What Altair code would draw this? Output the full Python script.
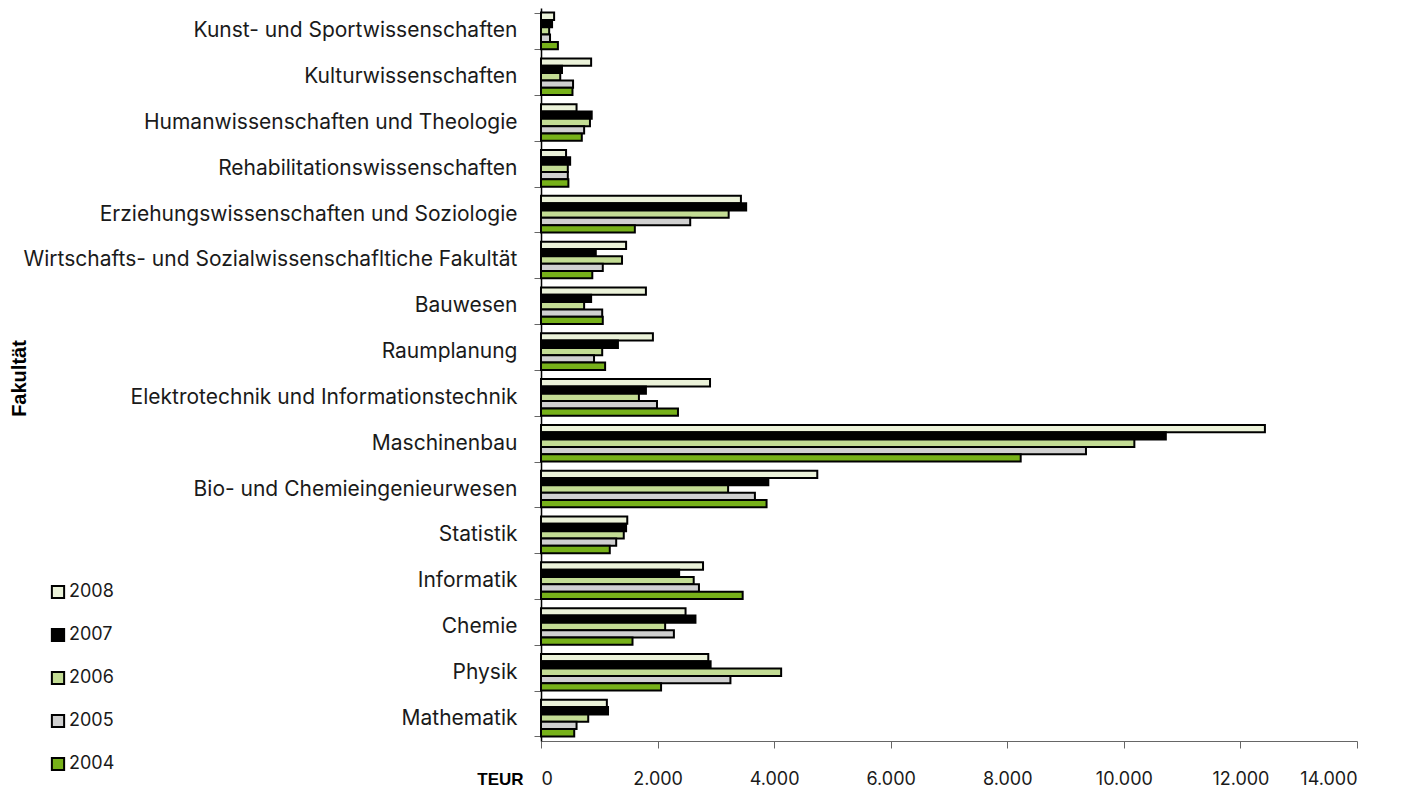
import altair as alt
import pandas as pd

fakultaeten = [
    "Kunst- und Sportwissenschaften",
    "Kulturwissenschaften",
    "Humanwissenschaften und Theologie",
    "Rehabilitationswissenschaften",
    "Erziehungswissenschaften und Soziologie",
    "Wirtschafts- und Sozialwissenschafltiche Fakultät",
    "Bauwesen",
    "Raumplanung",
    "Elektrotechnik und Informationstechnik",
    "Maschinenbau",
    "Bio- und Chemieingenieurwesen",
    "Statistik",
    "Informatik",
    "Chemie",
    "Physik",
    "Mathematik",
]
jahre = ["2008", "2007", "2006", "2005", "2004"]
farben = ["#EBF2D9", "#000000", "#C3DC94", "#D0D0D0", "#77B11A"]

v2008 = [225, 860, 610, 430, 3430, 1460, 1800, 1920, 2900, 12420, 4740, 1480, 2780, 2480, 2870, 1130]
v2007 = [190, 360, 870, 500, 3520, 940, 860, 1320, 1800, 10720, 3900, 1460, 2370, 2650, 2910, 1150]
v2006 = [140, 330, 840, 460, 3220, 1390, 740, 1050, 1680, 10180, 3210, 1420, 2620, 2130, 4120, 810]
v2005 = [155, 550, 740, 460, 2560, 1060, 1050, 910, 1990, 9350, 3670, 1290, 2710, 2280, 3250, 610]
v2004 = [290, 540, 700, 470, 1610, 880, 1060, 1100, 2350, 8230, 3870, 1180, 3460, 1570, 2060, 570]

serien = {"2008": v2008, "2007": v2007, "2006": v2006, "2005": v2005, "2004": v2004}
rows = []
for j in jahre:
    for f, v in zip(fakultaeten, serien[j]):
        rows.append({"Fakultät": f, "Jahr": j, "TEUR": v})
df = pd.DataFrame(rows)

LABEL_FONT = "Inter"
BOLD_FONT = "Liberation Sans"

chart = alt.Chart(df).mark_bar(stroke="black", strokeWidth=2).encode(
    y=alt.Y(
        "Fakultät:N",
        sort=fakultaeten,
        scale=alt.Scale(paddingInner=0.2, paddingOuter=0.1),
        axis=alt.Axis(
            title="Fakultät",
            titleFont=BOLD_FONT,
            titleFontWeight="bold",
            titleFontSize=20,
            titleX=-522,
            titleY=370,
            titleAngle=-90,
            titleAlign="center",
            titleBaseline="middle",
            labelFont=LABEL_FONT,
            labelFontSize=21,
            labelColor="#1a1a1a",
            labelPadding=17,
            labelLimit=700,
            tickBand="extent",
            tickSize=7,
            tickColor="#666666",
            domainColor="black",
            domainWidth=1.5,
        ),
    ),
    yOffset=alt.YOffset("Jahr:N", sort=jahre, scale=alt.Scale(paddingInner=0, paddingOuter=0)),
    x=alt.X(
        "TEUR:Q",
        scale=alt.Scale(domain=[0, 14000], nice=False),
        axis=alt.Axis(
            title="TEUR",
            titleFont=BOLD_FONT,
            titleFontWeight="bold",
            titleFontSize=17,
            titleX=-41,
            titleY=38,
            titleAlign="center",
            titleBaseline="middle",
            values=[0, 2000, 4000, 6000, 8000, 10000, 12000, 14000],
            labelExpr="replace(format(datum.value, ','), ',', '.')",
            labelFont=LABEL_FONT,
            labelFontSize=18,
            labelColor="#1a1a1a",
            labelPadding=22,
            tickSize=7,
            tickColor="#666666",
            domainColor="#666666",
            domainWidth=1,
            grid=False,
        ),
    ),
    color=alt.Color(
        "Jahr:N",
        sort=jahre,
        scale=alt.Scale(domain=jahre, range=farben),
        legend=alt.Legend(
            title=None,
            orient="none",
            legendX=-492,
            legendY=575,
            padding=0,
            symbolType="square",
            symbolSize=150,
            symbolStrokeColor="black",
            symbolStrokeWidth=2,
            symbolOpacity=1,
            labelFont=LABEL_FONT,
            labelFontSize=18,
            labelColor="#1a1a1a",
            labelOffset=2,
            rowPadding=21,
        ),
    ),
).properties(
    width=816,
    height=733,
    autosize=alt.AutoSizeParams(type="none"),
    padding={"left": 533, "top": 0, "right": 40, "bottom": 50},
).configure_view(stroke=None)

chart.save("out.html", embed_options={"renderer": "svg", "actions": False})
